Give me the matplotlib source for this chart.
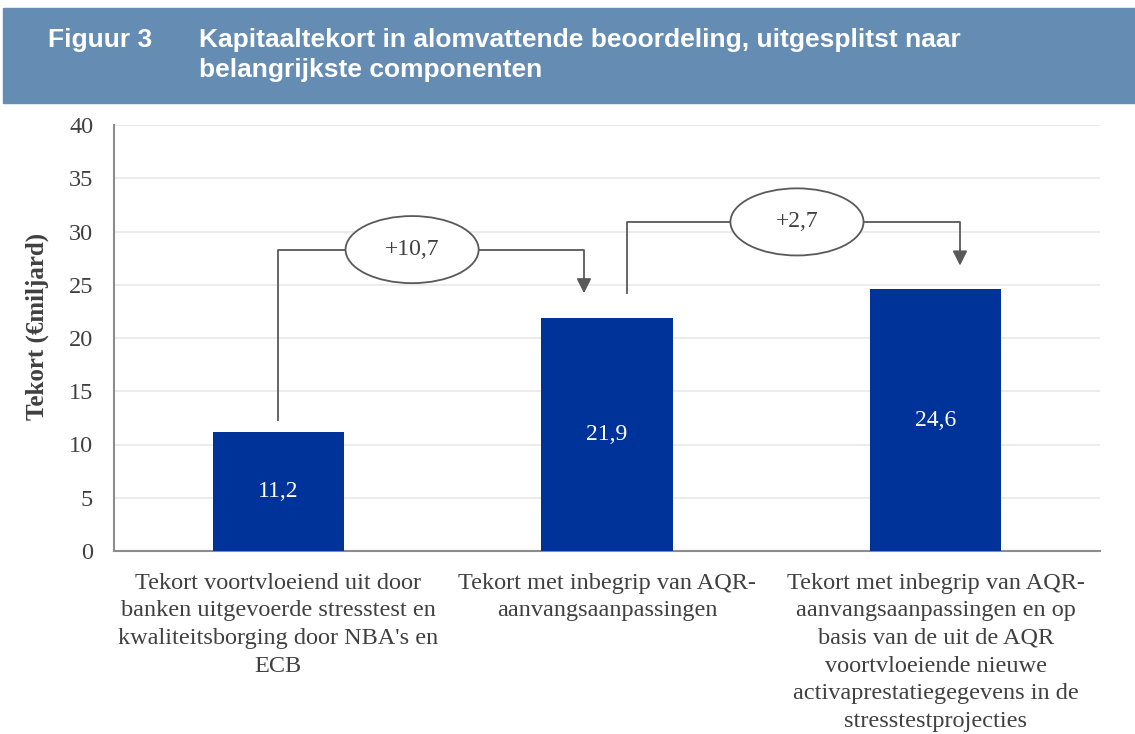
import numpy as np
import matplotlib.pyplot as plt
from matplotlib.patches import Ellipse, Rectangle

plt.rcParams['font.family'] = ['Liberation Serif', 'DejaVu Serif']

# data
categories = [
    "Tekort voortvloeiend uit door\nbanken uitgevoerde stresstest en\nkwaliteitsborging door NBA's en\nECB",
    "Tekort met inbegrip van AQR-\naanvangsaanpassingen",
    "Tekort met inbegrip van AQR-\naanvangsaanpassingen en op\nbasis van de uit de AQR\nvoortvloeiende nieuwe\nactivaprestatiegegevens in de\nstresstestprojecties",
]
values = [11.2, 21.9, 24.6]
value_labels = ["11,2", "21,9", "24,6"]
steps = ["+10,7", "+2,7"]
y_ticks = [0, 5, 10, 15, 20, 25, 30, 35, 40]

bar_color = '#003399'
line_color = '#595959'
text_color = '#404040'

fig = plt.figure(figsize=(11.35, 7.34), dpi=100)

# header band
fig.patches.append(Rectangle((0.003, 1 - 103/734), 0.997, (103 - 8)/734,
                             transform=fig.transFigure, color='#658CB2', zorder=0))
fig.text(48/1135, 1 - 47/734, "Figuur 3", family='Liberation Sans', weight='bold',
         fontsize=19, color='white', va='baseline')
fig.text(199/1135, 1 - 47/734, "Kapitaaltekort in alomvattende beoordeling, uitgesplitst naar",
         family='Liberation Sans', weight='bold', fontsize=19, color='white', va='baseline')
fig.text(199/1135, 1 - 77/734, "belangrijkste componenten",
         family='Liberation Sans', weight='bold', fontsize=19, color='white', va='baseline')

ax = fig.add_axes([114/1135, 1 - 551/734, (1100 - 114)/1135, (551 - 125)/734])
x = np.arange(len(values))
ax.bar(x, values, width=0.4, color=bar_color, zorder=3)
for xi, v, lab in zip(x, values, value_labels):
    ax.text(xi, v / 2, lab, ha='center', va='center', color='white', fontsize=17, zorder=4)

ax.set_xlim(-0.5, 2.5)
ax.set_ylim(0, 40)
ax.set_yticks(y_ticks)
ax.set_yticklabels([str(t) for t in y_ticks], fontsize=17.5, color=text_color)
ax.set_xticks(x)
ax.set_xticklabels(categories, fontsize=17.5, color=text_color, linespacing=1.42, va='top')
ax.tick_params(axis='y', length=0, pad=15)
ax.tick_params(axis='x', length=0, pad=15.5)
ax.grid(axis='y', color='#E9E9E9', lw=1.2, zorder=0)
for s in ['top', 'right']:
    ax.spines[s].set_visible(False)
for s in ['left', 'bottom']:
    ax.spines[s].set_color('#8C8C8C')
    ax.spines[s].set_linewidth(1.5)
ax.set_ylabel("Tekort (€miljard)", fontsize=18, weight='bold', color=text_color)
ax.yaxis.set_label_coords(-0.066, 0.528)

# connectors: start x, start y, top y, end x, arrow tip y, ellipse centre x
conn = [
    (0.0, 12.3, 28.3, 0.93, 24.2, 0.407),
    (1.06, 24.2, 30.9, 2.074, 26.8, 1.578),
]
for (x0, y0, yt, x1, y1, ex), lab in zip(conn, steps):
    ax.plot([x0, x0, x1, x1], [y0, yt, yt, y1 + 1.2], color=line_color, lw=1.3, zorder=5)
    ax.annotate('', xy=(x1, y1), xytext=(x1, y1 + 1.4),
                arrowprops=dict(arrowstyle='-|>', color=line_color, lw=1.3,
                                mutation_scale=22, shrinkA=0, shrinkB=0), zorder=5)
    ax.add_patch(Ellipse((ex, yt), 0.405, 6.3, facecolor='white', edgecolor=line_color,
                         lw=1.3, zorder=6))
    ax.text(ex, yt, lab, ha='center', va='center', fontsize=17, color=text_color, zorder=7)

fig.savefig('out.png', dpi=100)
